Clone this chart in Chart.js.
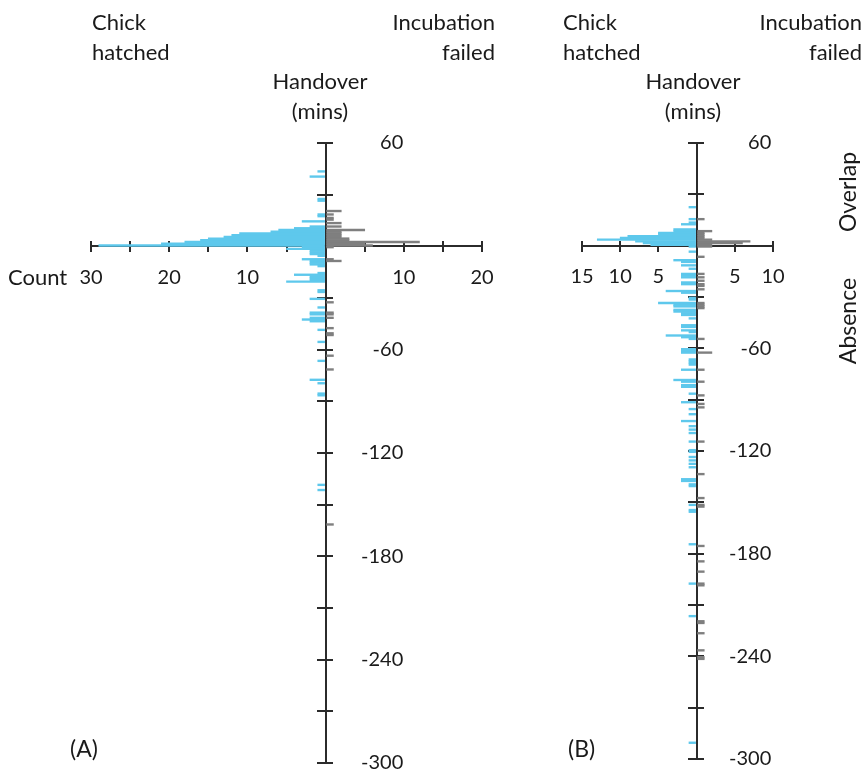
<!DOCTYPE html>
<html>
<head>
<meta charset="utf-8">
<script src="https://cdn.jsdelivr.net/npm/chart.js@4.4.1/dist/chart.umd.min.js"></script>
<style>
  html, body { margin: 0; padding: 0; background: #fff; overflow: hidden; }
  #wrap { position: relative; width: 867px; height: 773px; overflow: hidden; font-family: Lato, 'Open Sans', sans-serif; color: #1a1a1a; }
  canvas { position: absolute; top: 0; }
  #chart-a { left: 0; }
  #chart-b { left: 520px; }
  .lbl { position: absolute; font-size: 22px; line-height: 30px; white-space: nowrap; }
  .right { text-align: right; }
  .center { text-align: center; transform: translateX(-50%); }
  .rot { transform: translate(-50%, -50%) rotate(-90deg); font-size: 23px; }
</style>
</head>
<body>
<div id="wrap">
  <canvas id="chart-a" width="520" height="800"></canvas>
  <canvas id="chart-b" width="347" height="800"></canvas>

  <div class="lbl" style="left:92px; top:7px;">Chick<br>hatched</div>
  <div class="lbl right" style="right:372px; top:7px;">Incubation<br>failed</div>
  <div class="lbl center" style="left:320px; top:66px;">Handover<br>(mins)</div>
  <div class="lbl" style="left:8px; top:262px;">Count</div>
  <div class="lbl" style="left:70px; top:733px; font-size:23px;">(A)</div>

  <div class="lbl" style="left:563px; top:7px;">Chick<br>hatched</div>
  <div class="lbl right" style="right:5px; top:7px;">Incubation<br>failed</div>
  <div class="lbl center" style="left:693px; top:66px;">Handover<br>(mins)</div>
  <div class="lbl" style="left:568px; top:733px; font-size:23px;">(B)</div>
  <div class="lbl rot" style="left:847px; top:192px;">Overlap</div>
  <div class="lbl rot" style="left:847px; top:321px;">Absence</div>
</div>

<script>
// handover bins are 1 minute wide, values are the start minute of each bin
const aHatchedMins = [43, 40, 27, 26, 18, 17, 14, 11, 10, 9, 8, 7, 6, 5, 4, 3, 2, 1, 0,
  -1, -2, -3, -4, -5, -6, -8, -9, -10, -11, -12, -16, -17, -18, -19, -20, -21, -26, -27,
  -31, -36, -39, -40, -42, -43, -44, -49, -56, -67, -78, -80, -86, -87, -139, -142];
const aHatchedCounts = [1, 2, 1, 1, 1, 1, 3, 2, 4, 6, 7, 11, 12, 13, 15, 16, 18, 21, 29,
  3, 5, 2, 2, 2, 1, 3, 2, 2, 2, 1, 1, 4, 2, 2, 2, 5, 1, 1,
  2, 1, 2, 2, 2, 3, 2, 1, 1, 1, 2, 1, 1, 1, 1, 1];
const aFailedMins = [20, 18, 16, 15, 13, 11, 9, 8, 7, 6, 5, 4, 3, 2, 1, 0,
  -1, -8, -9, -33, -39, -40, -42, -48, -51, -52, -64, -72, -162];
const aFailedCounts = [2, 1, 1, 1, 2, 2, 5, 2, 2, 2, 2, 3, 3, 12, 5, 6,
  1, 1, 2, 1, 1, 1, 1, 1, 1, 1, 1, 1, 1];

const bHatchedMins = [22, 15, 13, 12, 9, 8, 7, 6, 5, 4, 3, 2, 1, 0,
  -1, -4, -9, -10, -12, -14, -17, -18, -19, -22, -23, -27, -28, -31, -32, -34,
  -35, -36, -38, -39, -40, -41, -43, -47, -48, -50, -51, -53, -54, -55, -61, -62, -63,
  -67, -68, -69, -70, -73, -79, -80, -82, -83, -87, -92, -96, -99, -103, -106, -108,
  -110, -115, -120, -121, -124, -126, -128, -130, -137, -138, -140, -141, -152, -155,
  -156, -175, -198, -217, -291];
const bHatchedCounts = [1, 1, 1, 2, 3, 3, 5, 5, 9, 10, 13, 8, 7, 6,
  1, 1, 3, 2, 2, 1, 2, 2, 2, 2, 2, 4, 2, 1, 1, 5,
  3, 3, 3, 3, 2, 2, 1, 2, 2, 2, 1, 4, 2, 1, 2, 2, 2,
  1, 1, 1, 1, 2, 3, 2, 2, 2, 1, 2, 1, 1, 2, 1, 1,
  1, 1, 1, 1, 1, 1, 1, 1, 2, 2, 1, 1, 1, 1,
  1, 1, 1, 1, 1];
const bFailedMins = [15, 8, 7, 6, 5, 4, 3, 2, 1, 0,
  -1, -7, -17, -19, -21, -23, -24, -26, -34, -35, -36, -37, -55, -63, -73, -80, -88,
  -93, -95, -115, -134, -148, -152, -153, -176, -185, -191, -198, -199, -220, -221,
  -227, -237, -241, -242];
const bFailedCounts = [1, 2, 1, 1, 1, 1, 2, 7, 6, 2,
  2, 1, 1, 1, 1, 1, 1, 1, 1, 1, 1, 1, 1, 2, 1, 1, 1,
  1, 1, 1, 1, 1, 1, 1, 1, 1, 1, 1, 1, 1, 1,
  1, 1, 1, 1];

// tick labels (hatched counts are drawn to the left, so negative)
const handoverLabels = [60, -60, -120, -180, -240, -300];
const aCountLabels = [-30, -20, -10, 10, 20];
const bCountLabels = [-15, -10, -5, 5, 10];

const axisColor = '#2b2b2b';
const textColor = '#1a1a1a';
const tickFont = { family: 'Lato', size: 20 };

function toBars(mins, counts, sign) {
  return mins.map((m, i) => ({ x: sign * counts[i], y: m + 0.5 }));
}

function makePanel(canvasId, panel) {
  const ctx = document.getElementById(canvasId).getContext('2d');
  const tickMarks = (len) => ({
    drawOnChartArea: false, offset: false, tickLength: len, color: axisColor, lineWidth: 2
  });

  return new Chart(ctx, {
    type: 'bar',
    data: {
      datasets: [
        {
          label: 'Chick hatched',
          data: toBars(panel.hatchedMins, panel.hatchedCounts, -1),
          backgroundColor: '#5ec8ec',
          xAxisID: 'x',
          yAxisID: 'y'
        },
        {
          label: 'Incubation failed',
          data: toBars(panel.failedMins, panel.failedCounts, 1),
          backgroundColor: '#7f7f7f',
          xAxisID: 'x',
          yAxisID: 'y'
        }
      ]
    },
    options: {
      indexAxis: 'y',
      responsive: false,
      animation: false,
      devicePixelRatio: 1,
      layout: { padding: panel.padding },
      datasets: {
        bar: { grouped: false, barPercentage: 1, categoryPercentage: 1, borderWidth: 0 }
      },
      plugins: {
        legend: { display: false },
        tooltip: { enabled: false }
      },
      scales: {
        x: {
          type: 'linear',
          position: { y: 0 },
          min: panel.countMin,
          max: panel.countMax,
          grid: tickMarks(5),
          border: { color: axisColor, width: 2 },
          ticks: {
            stepSize: 5,
            autoSkip: false,
            maxRotation: 0,
            padding: 14,
            font: tickFont,
            color: textColor,
            callback: v => panel.countLabels.includes(v) ? String(Math.abs(v)) : ''
          }
        },
        // upper half of the count tick marks
        xUp: {
          type: 'linear',
          position: { y: 3 },
          min: panel.countMin,
          max: panel.countMax,
          grid: tickMarks(5),
          border: { display: false },
          ticks: { stepSize: 5, autoSkip: false, display: false }
        },
        y: {
          type: 'linear',
          position: { x: 0 },
          offset: false,
          min: -300,
          max: 60,
          grid: tickMarks(8),
          border: { color: axisColor, width: 2 },
          ticks: { stepSize: 30, display: false }
        },
        // right half of the handover tick marks
        yRight: {
          type: 'linear',
          position: { x: 1 },
          offset: false,
          min: -300,
          max: 60,
          grid: tickMarks(7),
          border: { display: false },
          ticks: { stepSize: 30, display: false }
        },
        // handover labels, drawn right of the centre axis
        yLabels: {
          type: 'linear',
          position: 'left',
          offset: false,
          min: -300,
          max: 60,
          grid: { display: false, offset: false },
          border: { display: false },
          afterFit: scale => {
            scale.width = 0;
            scale.paddingTop = 0;
            scale.paddingBottom = 0;
          },
          ticks: {
            stepSize: 60,
            mirror: true,
            crossAlign: 'far',
            padding: panel.labelPad,
            font: tickFont,
            color: textColor,
            callback: v => handoverLabels.includes(v) ? String(v) : ''
          }
        }
      }
    }
  });
}

makePanel('chart-a', {
  hatchedMins: aHatchedMins,
  hatchedCounts: aHatchedCounts,
  failedMins: aFailedMins,
  failedCounts: aFailedCounts,
  countMin: -30,
  countMax: 20,
  countLabels: aCountLabels,
  labelPad: 270,
  padding: { left: 91, right: 38, top: 143, bottom: 37 }
});

makePanel('chart-b', {
  hatchedMins: bHatchedMins,
  hatchedCounts: bHatchedCounts,
  failedMins: bFailedMins,
  failedCounts: bFailedCounts,
  countMin: -15,
  countMax: 10,
  countLabels: bCountLabels,
  labelPad: 147,
  padding: { left: 62, right: 94, top: 143, bottom: 41 }
});
</script>
</body>
</html>
